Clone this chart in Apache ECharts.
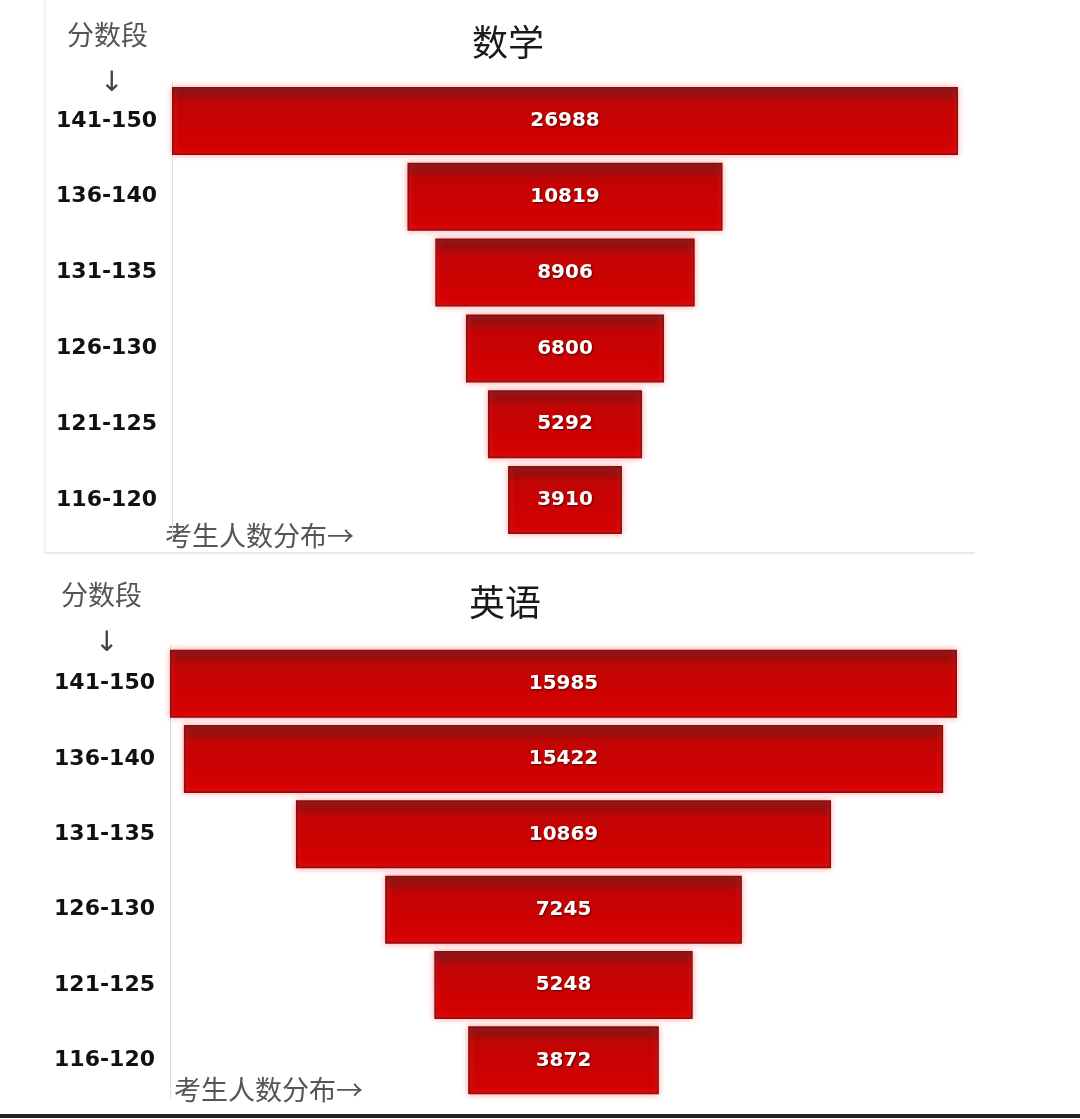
<!DOCTYPE html>
<html>
<head>
<meta charset="utf-8">
<title>分数段人数分布</title>
<script src="https://cdn.jsdelivr.net/npm/echarts@6/dist/echarts.min.js"></script>
<style>
    html, body { margin: 0; padding: 0; background: #fff; }
    #main { width: 1080px; height: 1119px; }
</style>
</head>
<body>
<div id="main"></div>
<script>
// 分数段（从高到低）
var scoreBands = ['141-150', '136-140', '131-135', '126-130', '121-125', '116-120'];
// 数学各分数段人数
var mathCounts = [26988, 10819, 8906, 6800, 5292, 3910];
// 英语各分数段人数
var englishCounts = [15985, 15422, 10869, 7245, 5248, 3872];

var chart = echarts.init(document.getElementById('main'));

// 居中用的透明占位 = (最大值 - 当前值) / 2
function padOf(list) {
    var max = Math.max.apply(null, list);
    return list.map(function (v) { return (max - v) / 2; });
}

var barStyle = {
    color: new echarts.graphic.LinearGradient(0, 0, 0, 1, [
        {offset: 0, color: '#7a1515'},
        {offset: 0.25, color: '#c20404'},
        {offset: 1, color: '#d60000'}
    ]),
    borderColor: '#8c0d0d',
    borderWidth: 1.5,
    shadowColor: 'rgba(255, 90, 90, 0.55)',
    shadowBlur: 6
};

var valueLabel = {
    show: true,
    position: 'inside',
    color: '#fff',
    fontSize: 20,
    fontWeight: 'bold',
    fontFamily: 'DejaVu Sans, sans-serif',
    textShadowColor: 'rgba(60, 0, 0, 0.8)',
    textShadowBlur: 2,
    textShadowOffsetX: 1,
    textShadowOffsetY: 1
};

function yAxisOf(gridIndex) {
    return {
        type: 'category',
        gridIndex: gridIndex,
        data: scoreBands,
        inverse: true,
        axisTick: {show: false},
        axisLine: {show: true, lineStyle: {color: '#dcdcdc', width: 1}},
        axisLabel: {
            color: '#111',
            fontSize: 22,
            fontWeight: 'bold',
            fontFamily: 'DejaVu Sans, sans-serif',
            margin: 15
        }
    };
}

function xAxisOf(gridIndex, list) {
    return {
        type: 'value',
        gridIndex: gridIndex,
        min: 0,
        max: Math.max.apply(null, list),
        show: false
    };
}

var noteStyle = {
    fill: '#555',
    fontSize: 27,
    fontFamily: 'Noto Sans CJK SC, sans-serif'
};

var arrowStyle = {text: '↓', fill: '#444', fontSize: 28, fontFamily: 'DejaVu Sans'};

var option = {
    backgroundColor: '#fff',
    animation: false,
    title: [
        {
            text: '数学', left: 467, top: 19,
            textStyle: {fontSize: 36, fontWeight: 'normal', color: '#1a1a1a', fontFamily: 'Noto Sans CJK SC'}
        },
        {
            text: '英语', left: 464, top: 579,
            textStyle: {fontSize: 36, fontWeight: 'normal', color: '#1a1a1a', fontFamily: 'Noto Sans CJK SC'}
        }
    ],
    grid: [
        {left: 172, right: 122, top: 83, height: 455},
        {left: 170, right: 123, top: 646, height: 452}
    ],
    xAxis: [xAxisOf(0, mathCounts), xAxisOf(1, englishCounts)],
    yAxis: [yAxisOf(0), yAxisOf(1)],
    series: [
        {
            type: 'bar', stack: 'math', xAxisIndex: 0, yAxisIndex: 0,
            data: padOf(mathCounts), barWidth: 68,
            itemStyle: {color: 'transparent'}, silent: true
        },
        {
            name: '数学', type: 'bar', stack: 'math', xAxisIndex: 0, yAxisIndex: 0,
            data: mathCounts, barWidth: 68,
            itemStyle: barStyle, label: valueLabel
        },
        {
            type: 'bar', stack: 'english', xAxisIndex: 1, yAxisIndex: 1,
            data: padOf(englishCounts), barWidth: 68,
            itemStyle: {color: 'transparent'}, silent: true
        },
        {
            name: '英语', type: 'bar', stack: 'english', xAxisIndex: 1, yAxisIndex: 1,
            data: englishCounts, barWidth: 68,
            itemStyle: barStyle, label: valueLabel
        }
    ],
    graphic: [
        // 左侧淡边线和中间分隔线
        {type: 'line', shape: {x1: 45, y1: 0, x2: 45, y2: 553}, style: {stroke: '#e6e6e6', lineWidth: 1}},
        {type: 'line', shape: {x1: 45, y1: 553, x2: 975, y2: 553}, style: {stroke: '#e2e2e2', lineWidth: 1.5}},
        {type: 'line', shape: {x1: 0, y1: 1116, x2: 1080, y2: 1116}, style: {stroke: '#222', lineWidth: 4}},
        // 数学
        {type: 'text', left: 67, top: 21, style: Object.assign({text: '分数段'}, noteStyle)},
        {type: 'text', left: 100, top: 70, style: arrowStyle},
        {type: 'text', left: 165, top: 522, style: Object.assign({text: '考生人数分布→'}, noteStyle)},
        // 英语
        {type: 'text', left: 61, top: 581, style: Object.assign({text: '分数段'}, noteStyle)},
        {type: 'text', left: 95, top: 630, style: arrowStyle},
        {type: 'text', left: 174, top: 1076, style: Object.assign({text: '考生人数分布→'}, noteStyle)}
    ]
};

chart.setOption(option);

window.onresize = function () {
    chart.resize();
};
</script>
</body>
</html>
